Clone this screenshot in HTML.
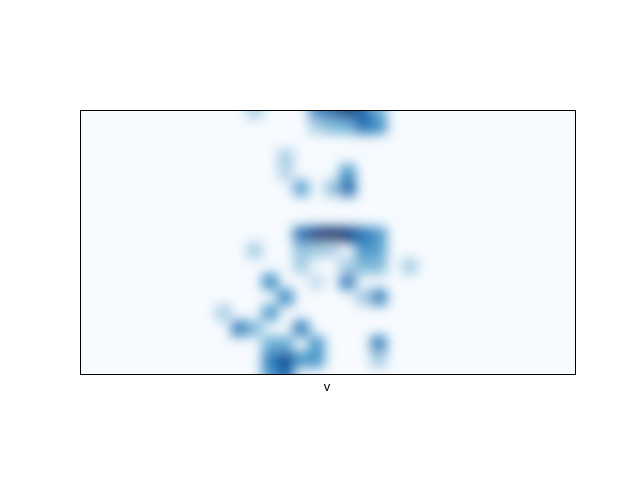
<!DOCTYPE html>
<html><head><meta charset="utf-8"><style>
html,body{margin:0;padding:0;background:#fff;}
svg{display:block;font-family:"Liberation Sans","DejaVu Sans",sans-serif;}
</style></head><body>
<svg id="chart" width="640" height="480" viewBox="0 0 640 480">
<defs>
<filter id="blur" filterUnits="userSpaceOnUse" x="80" y="110" width="496" height="265">
<feGaussianBlur stdDeviation="6" edgeMode="duplicate"/>
</filter>
<clipPath id="clip"><rect x="80" y="110" width="496" height="265"/></clipPath>
</defs>
<rect x="80" y="110" width="496" height="265" fill="#f7fbff"/>
<g id="cells" clip-path="url(#clip)" filter="url(#blur)"></g>
<rect x="80.5" y="110.5" width="495" height="264" fill="none" stroke="#000" stroke-width="1"/>
<text x="327" y="391" font-size="13" text-anchor="middle" fill="#000">v</text>
</svg>
<script>
const nCols = 32;
const nRows = 17;
// sparse cells: [row, col, value]
const cellRows = [0,0,0,0,0,0,1,1,1,3,4,5,4,5,5,8,8,8,8,8,8,9,9,9,10,10,10,11,11,11,12,12,13,13,14,14,14,15,15,16,16,16,15,15,16,9,9,10,9,1,1,12,10,16,17,17];
const cellCols = [11,15,16,17,18,19,18,19,17,13,13,14,17,17,16,14,15,16,17,18,19,18,19,11,21,14,18,12,17,15,13,19,12,9,10,14,11,15,19,13,12,14,12,13,19,14,15,17,16,16,15,18,19,15,13,12];
const cellVals = [0.35,0.7,0.8,1.0,0.8,0.5,0.75,0.65,0.5,0.35,0.3,0.55,0.6,0.8,0.4,0.75,0.95,1.0,0.95,0.75,0.6,0.6,0.55,0.35,0.35,0.35,0.45,0.65,0.7,0.25,0.65,0.7,0.6,0.35,0.7,0.7,0.45,0.6,0.7,0.9,0.7,0.6,0.5,0.5,0.35,0.4,0.35,0.35,0.3,0.45,0.35,0.35,0.45,0.6,0.8,0.6];

const stops = [[247,251,255],[222,235,247],[198,219,239],[158,202,225],[107,174,214],[66,146,198],[33,113,181],[8,81,156],[8,48,107]];
function blues(v){
  v=Math.max(0,Math.min(1,v));
  const p=v*(stops.length-1), i=Math.min(Math.floor(p),stops.length-2), f=p-i;
  const a=stops[i], b=stops[i+1];
  return 'rgb('+a.map((x,k)=>Math.round(x+(b[k]-x)*f)).join(',')+')';
}
const x0=80, y0=110, W=496, H=265;
const cw=W/nCols, ch=H/nRows;
function xPos(c){return x0+c*cw-cw/4;}
function yPos(r){return y0+r*ch-ch/2;}
const g=document.getElementById('cells');
const ns='http://www.w3.org/2000/svg';
for(let i=0;i<cellVals.length;i++){
  const el=document.createElementNS(ns,'rect');
  el.setAttribute('x',xPos(cellCols[i]));
  el.setAttribute('y',yPos(cellRows[i]));
  el.setAttribute('width',cw+0.5);
  el.setAttribute('height',ch+0.5);
  el.setAttribute('fill',blues(cellVals[i]));
  
  
  g.appendChild(el);
}
</script>
</body></html>
